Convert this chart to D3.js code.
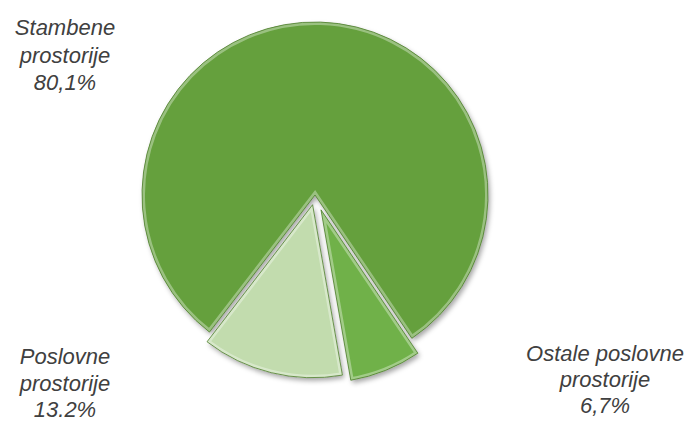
<!DOCTYPE html>
<html>
<head>
<meta charset="utf-8">
<script src="https://cdn.jsdelivr.net/npm/d3@7"></script>
<style>
  html, body { margin: 0; padding: 0; background: #ffffff; }
  svg { display: block; }
</style>
</head>
<body>
<script>
// ---- Data ----
const categories = ["Stambene prostorije", "Poslovne prostorije", "Ostale poslovne prostorije"];
const values = [80.1, 13.2, 6.7];
const valueLabels = ["80,1%", "13.2%", "6,7%"];
const labelLines = [["Stambene", "prostorije"], ["Poslovne", "prostorije"], ["Ostale poslovne", "prostorije"]];
const colors = ["#65a03e", "#c2dcae", "#70b148"];
const drawOrder = [0, 2, 1];          // clockwise order around the pie
const explode = [0, 10, 16];

const W = 691, H = 423;
const cx = 315, cy = 195, R = 173;

const svg = d3.select("body").append("svg").attr("width", W).attr("height", H);
const defs = svg.append("defs");

const shadow = defs.append("filter").attr("id", "shadow")
  .attr("x", "-20%").attr("y", "-20%").attr("width", "140%").attr("height", "140%");
shadow.append("feDropShadow").attr("dx", 2).attr("dy", 3).attr("stdDeviation", 2.5)
  .attr("flood-color", "#000").attr("flood-opacity", 0.35);

const data = categories.map((c, i) => ({ i, name: c, value: values[i] }));
const startA = 217.6 * Math.PI / 180;
const pie = d3.pie().value(d => d.value)
  .sort((a, b) => drawOrder.indexOf(a.i) - drawOrder.indexOf(b.i))
  .startAngle(startA).endAngle(startA + 2 * Math.PI);
const arcs = pie(data);
const arc = d3.arc().innerRadius(0).outerRadius(R);

const g = svg.append("g").attr("transform", `translate(${cx},${cy})`);

arcs.forEach(a => {
  const mid = (a.startAngle + a.endAngle) / 2;
  const off = explode[a.data.i];
  const tx = off * Math.sin(mid), ty = -off * Math.cos(mid);
  const sg = g.append("g").attr("transform", `translate(${tx},${ty})`);
  const clipId = "clip" + a.data.i;
  defs.append("clipPath").attr("id", clipId).append("path").attr("d", arc(a));
  sg.append("path").attr("d", arc(a))
    .attr("fill", colors[a.data.i])
    .attr("filter", "url(#shadow)");
  // inner bevel highlight
  sg.append("path").attr("d", arc(a))
    .attr("fill", "none")
    .attr("stroke", "#ffffff").attr("stroke-opacity", 0.35).attr("stroke-width", 6)
    .attr("clip-path", `url(#${clipId})`);
  sg.append("path").attr("d", arc(a))
    .attr("fill", "none")
    .attr("stroke", "#4d7d2c").attr("stroke-width", 1).attr("stroke-opacity", 0.8);
});

// ---- Labels ----
const labelPos = [
  { x: 65, y: 35, lh: 27.5 },
  { x: 65, y: 364, lh: 26.5 },
  { x: 605, y: 361, lh: 26 }
];
data.forEach(d => {
  const p = labelPos[d.i];
  const t = svg.append("text")
    .attr("text-anchor", "middle")
    .attr("font-family", "Liberation Sans, Arial, sans-serif")
    .attr("font-style", "italic")
    .attr("font-size", 22)
    .attr("fill", "#404040");
  const lines = labelLines[d.i].concat([valueLabels[d.i]]);
  lines.forEach((ln, j) => {
    t.append("tspan").attr("x", p.x).attr("y", p.y + j * p.lh).text(ln);
  });
});
</script>
</body>
</html>
